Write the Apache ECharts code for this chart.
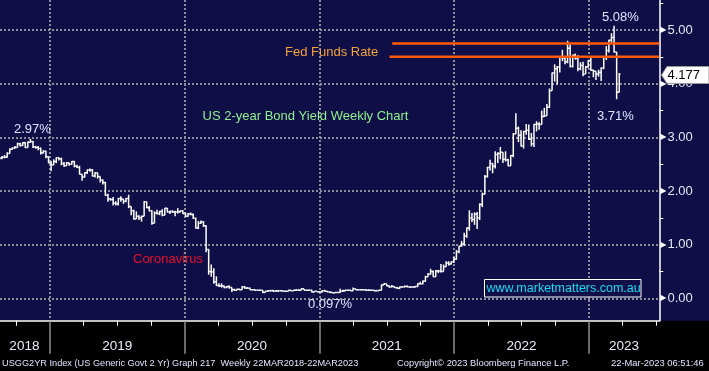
<!DOCTYPE html>
<html><head><meta charset="utf-8">
<script src="https://cdn.jsdelivr.net/npm/echarts@6/dist/echarts.min.js"></script>
<style>html,body{margin:0;padding:0;background:#000;}#c{width:709px;height:371px;}</style>
</head><body><div id="c"></div>
<script>
// ---------- DATA (weekly bars) ----------
const firstWeek = '2018-08-17';   // Friday of the first weekly bar, one bar per week after it
const closes = [
  // 2018
  2.61,2.63,2.63,2.70,2.78,2.80,2.81,2.88,2.85,2.90,2.81,2.91,2.92,2.82,2.81,2.79,2.71,2.74,2.64,2.52,
  // 2019
  2.49,2.55,2.62,2.60,2.51,2.47,2.52,2.50,2.55,2.46,2.44,2.31,2.26,2.34,2.39,2.39,2.28,2.34,2.27,2.20,2.16,1.92,1.85,1.84,1.77,1.76,
  1.86,1.85,1.81,1.86,1.71,1.63,1.48,1.53,1.50,1.53,1.80,1.69,1.63,1.40,1.59,1.58,1.62,1.55,1.68,1.61,1.62,1.61,1.61,1.61,1.63,1.58,
  // 2020
  1.53,1.57,1.56,1.49,1.31,1.40,1.42,1.35,0.91,0.50,0.49,0.31,0.24,0.23,0.23,0.20,0.22,0.20,0.16,0.15,0.17,0.16,0.21,0.19,0.19,0.16,
  0.16,0.15,0.15,0.15,0.11,0.13,0.14,0.14,0.13,0.14,0.14,0.14,0.13,0.13,0.15,0.14,0.15,0.15,0.15,0.18,0.15,0.15,0.15,0.12,0.13,0.12,
  // 2021
  0.12,0.14,0.13,0.12,0.11,0.10,0.11,0.11,0.13,0.14,0.15,0.15,0.14,0.18,0.16,0.16,0.16,0.16,0.15,0.15,0.15,0.14,0.14,0.15,0.25,0.27,
  0.23,0.21,0.22,0.20,0.19,0.21,0.21,0.22,0.21,0.21,0.21,0.22,0.27,0.27,0.32,0.40,0.45,0.50,0.40,0.51,0.51,0.50,0.59,0.66,0.64,0.68,0.73,
  // 2022
  0.87,0.97,1.01,1.16,1.31,1.50,1.47,1.57,1.50,1.75,1.94,2.27,2.44,2.51,2.46,2.68,2.70,2.72,2.59,2.58,2.47,2.66,3.06,3.17,3.04,2.84,
  3.11,3.13,2.97,2.88,3.24,3.25,3.24,3.39,3.40,3.56,3.87,4.20,4.28,4.31,4.50,4.48,4.41,4.66,4.33,4.53,4.47,4.28,4.34,4.18,4.31,4.43,
  // 2023
  4.25,4.23,4.18,4.21,4.29,4.49,4.62,4.81,4.86,4.59,3.84,4.177
];
const highs = [
  2.64,2.65,2.67,2.72,2.79,2.81,2.84,2.90,2.90,2.91,2.91,2.92,2.97,2.93,2.84,2.84,2.81,2.76,2.75,2.65,
  2.56,2.59,2.63,2.63,2.62,2.54,2.54,2.53,2.56,2.56,2.49,2.47,2.31,2.35,2.40,2.42,2.41,2.35,2.34,2.27,2.22,2.17,1.95,1.87,1.89,1.81,
  1.87,1.90,1.85,1.87,1.93,1.69,1.65,1.62,1.55,1.54,1.81,1.79,1.72,1.64,1.62,1.65,1.63,1.66,1.68,1.67,1.63,1.64,1.63,1.68,1.64,1.64,
  1.60,1.59,1.60,1.58,1.50,1.44,1.45,1.44,1.36,0.92,0.63,0.56,0.41,0.28,0.28,0.24,0.23,0.24,0.20,0.18,0.18,0.18,0.23,0.23,0.21,0.20,
  0.17,0.16,0.16,0.16,0.15,0.14,0.15,0.16,0.16,0.15,0.14,0.15,0.14,0.14,0.16,0.15,0.16,0.17,0.17,0.19,0.18,0.16,0.16,0.16,0.13,0.13,
  0.13,0.15,0.16,0.14,0.13,0.12,0.12,0.12,0.18,0.16,0.16,0.16,0.16,0.20,0.18,0.17,0.17,0.17,0.17,0.17,0.16,0.16,0.16,0.16,0.26,0.28,
  0.27,0.24,0.25,0.22,0.21,0.22,0.23,0.24,0.24,0.22,0.22,0.23,0.28,0.31,0.33,0.42,0.47,0.55,0.52,0.53,0.53,0.64,0.63,0.69,0.69,0.69,0.77,
  0.90,0.98,1.07,1.22,1.32,1.64,1.59,1.60,1.61,1.77,1.97,2.30,2.45,2.58,2.52,2.74,2.72,2.82,2.72,2.74,2.60,2.67,3.08,3.45,3.20,3.13,
  3.12,3.25,3.24,3.08,3.25,3.30,3.28,3.50,3.55,3.62,3.91,4.21,4.36,4.33,4.51,4.63,4.51,4.80,4.73,4.54,4.56,4.53,4.40,4.41,4.33,4.44,
  4.48,4.26,4.22,4.26,4.30,4.50,4.70,4.82,4.94,5.08,4.59,4.20
];
const lows = [
  2.58,2.59,2.61,2.62,2.70,2.77,2.79,2.81,2.83,2.84,2.80,2.81,2.90,2.80,2.79,2.76,2.68,2.70,2.61,2.52,
  2.37,2.48,2.52,2.57,2.48,2.45,2.47,2.47,2.49,2.44,2.43,2.31,2.19,2.25,2.32,2.36,2.27,2.25,2.23,2.16,2.12,1.91,1.80,1.82,1.73,1.73,
  1.73,1.80,1.76,1.79,1.68,1.55,1.47,1.50,1.46,1.43,1.55,1.68,1.62,1.37,1.40,1.56,1.55,1.53,1.55,1.60,1.57,1.59,1.53,1.58,1.60,1.57,
  1.52,1.52,1.55,1.48,1.30,1.29,1.39,1.33,0.86,0.44,0.40,0.27,0.23,0.21,0.20,0.19,0.19,0.18,0.12,0.14,0.15,0.15,0.16,0.18,0.18,0.16,
  0.15,0.14,0.15,0.14,0.10,0.11,0.12,0.13,0.13,0.12,0.12,0.13,0.12,0.12,0.13,0.13,0.14,0.14,0.14,0.15,0.15,0.14,0.14,0.11,0.11,0.12,
  0.11,0.11,0.13,0.12,0.11,0.10,0.10,0.10,0.10,0.12,0.13,0.14,0.14,0.14,0.16,0.15,0.15,0.15,0.14,0.14,0.14,0.14,0.14,0.14,0.15,0.25,
  0.23,0.20,0.21,0.19,0.18,0.17,0.21,0.21,0.21,0.20,0.20,0.20,0.21,0.26,0.26,0.31,0.40,0.44,0.40,0.40,0.47,0.48,0.50,0.59,0.61,0.63,0.66,
  0.72,0.84,0.96,0.98,1.13,1.26,1.42,1.37,1.29,1.46,1.70,1.94,2.25,2.38,2.33,2.42,2.52,2.59,2.52,2.55,2.46,2.47,2.63,3.08,2.91,2.83,
  2.79,3.05,2.95,2.83,2.82,3.11,3.14,3.26,3.38,3.42,3.55,3.87,4.04,3.98,4.21,4.42,4.36,4.38,4.30,4.30,4.45,4.23,4.25,4.14,4.19,4.30,
  4.24,4.12,4.07,4.13,4.05,4.27,4.44,4.58,4.77,4.58,3.71,3.84
];
const fedFundsLevels = [4.75, 4.50];          // upper / lower bound lines
const fedFundsFrom = [2021.54, 2021.52];      // decimal year where each line starts
const yLabelValues = [0, 1, 2, 3, 4, 5];
const yTickValues = [0.5, 1.5, 2.5, 3.5, 4.5, 5.5];
const quarterTicks = [2018.75, 2019.25, 2019.5, 2019.75, 2020.25, 2020.5, 2020.75, 2021.25, 2021.5, 2021.75,
                      2022.25, 2022.5, 2022.75, 2023.25, 2023.5];
const yearTicks = [2019, 2020, 2021, 2022, 2023];
const yearLabelAt = [2018.81, 2019.5, 2020.5, 2021.5, 2022.5, 2023.26];
const lastValueText = '4.177';

// ---------- CHART ----------
const FONT = '"Liberation Sans", Arial, sans-serif';
const X_MIN = 2018.629, X_MAX = 2023.522, Y_MIN = -0.417, Y_MAX = 5.559;
const DAY = 86400000;
const startMs = Date.parse(firstWeek + 'T00:00:00Z');
function decYear(ms) {
  const y = new Date(ms).getUTCFullYear();
  const a = Date.UTC(y, 0, 1), b = Date.UTC(y + 1, 0, 1);
  return y + (ms - a) / (b - a);
}
const bars = closes.map((c, i) => [decYear(startMs + i * 7 * DAY), i ? closes[i - 1] : c, highs[i], lows[i], c]);

function renderBar(params, api) {
  const t = api.value(0), o = api.value(1), h = api.value(2), l = api.value(3), c = api.value(4);
  const top = Math.max(h, o, c), bot = Math.min(l, o, c);
  const pT = api.coord([t, top]), pB = api.coord([t, bot]), pO = api.coord([t, o]), pC = api.coord([t, c]);
  const hw = api.size([7 / 365.25, 0])[0] / 2;
  const st = { stroke: '#ffffff', lineWidth: 1.5 };
  return { type: 'group', children: [
    { type: 'line', shape: { x1: pT[0], y1: pT[1], x2: pB[0], y2: pB[1] }, style: st },
    { type: 'line', shape: { x1: pO[0] - hw, y1: pO[1], x2: pO[0], y2: pO[1] }, style: st },
    { type: 'line', shape: { x1: pC[0], y1: pC[1], x2: pC[0] + hw, y2: pC[1] }, style: st }
  ]};
}

const fedSeries = fedFundsLevels.map((lv, i) => ({
  type: 'line', xAxisIndex: 0, yAxisIndex: 0, silent: true, z: 5, symbol: 'none',
  lineStyle: { color: '#ff5a0a', width: 2.5 },
  data: [[fedFundsFrom[i], lv], [X_MAX, lv]]
}));

function txt(x, y, text, fill, size) {
  return { type: 'text', x: x, y: y, silent: true, z: 50,
    style: { text: text, fill: fill, font: size + 'px ' + FONT, verticalAlign: 'middle', align: 'left' } };
}
const LABEL = '#dde6ff';
const GRIDLINE = { color: '#8d8d99', width: 2, type: [2, 2] };

const chart = echarts.init(document.getElementById('c'), null, { renderer: 'canvas' });
chart.setOption({
  animation: false,
  backgroundColor: '#0f0e47',
  grid: [
    { left: 0, right: 49.7, top: 0, height: 320.7, outerBoundsMode: 'none' },
    { left: 0, right: 49.7, top: 319.7, height: 1, outerBoundsMode: 'none' }
  ],
  xAxis: [
    { type: 'value', gridIndex: 0, min: X_MIN, max: X_MAX, minInterval: 1, maxInterval: 1,
      axisLine: { show: false }, axisTick: { show: false }, axisLabel: { show: false },
      splitLine: { show: true, showMinLine: false, showMaxLine: false, lineStyle: GRIDLINE } },
    { type: 'value', gridIndex: 1, position: 'bottom', min: X_MIN, max: X_MAX,
      axisLine: { show: true, lineStyle: { color: '#ffffff', width: 1.5 } },
      axisTick: { show: true, customValues: quarterTicks, length: 5, lineStyle: { color: '#ffffff', width: 1 } },
      axisLabel: { show: true, customValues: yearLabelAt, margin: 19, color: '#e8ecf6',
        fontFamily: FONT, fontSize: 13.5, formatter: v => String(Math.floor(v)) },
      splitLine: { show: false } },
    { type: 'value', gridIndex: 1, position: 'bottom', min: X_MIN, max: X_MAX,
      axisLine: { show: false },
      axisTick: { show: true, customValues: yearTicks, length: 33, lineStyle: { color: '#8e8e8e', width: 1.5 } },
      axisLabel: { show: false }, splitLine: { show: false } }
  ],
  yAxis: [
    { type: 'value', gridIndex: 0, position: 'right', min: Y_MIN, max: Y_MAX, minInterval: 1, maxInterval: 1,
      axisLine: { show: true, lineStyle: { color: '#ffffff', width: 1.5 } },
      axisTick: { show: false },
      axisLabel: { show: true, showMinLabel: false, showMaxLabel: false, margin: 1,
        formatter: v => '{t|\u25B6}{v|' + v.toFixed(2) + '}',
        rich: {
          t: { color: '#ffffff', fontSize: 8, fontFamily: '"DejaVu Sans"' },
          v: { color: '#e2e8f6', fontSize: 13, fontFamily: FONT, padding: [0, 0, 0, 1] }
        } },
      splitLine: { show: true, showMinLine: false, showMaxLine: false, lineStyle: GRIDLINE } },
    { type: 'value', gridIndex: 1, show: false, min: 0, max: 1 },
    { type: 'value', gridIndex: 0, position: 'right', min: Y_MIN, max: Y_MAX,
      axisLine: { show: false },
      axisTick: { show: true, inside: false, customValues: yTickValues, length: 4, lineStyle: { color: '#ffffff', width: 1 } },
      axisLabel: { show: false }, splitLine: { show: false } }
  ],
  series: [
    { type: 'custom', name: 'USGG2YR', xAxisIndex: 0, yAxisIndex: 0, z: 3, silent: true,
      renderItem: renderBar, encode: { x: 0, y: [1, 2, 3, 4] }, data: bars }
  ].concat(fedSeries),
  graphic: { elements: [
    { type: 'rect', z: -10, silent: true, shape: { x: 0, y: 320.7, width: 709, height: 51 }, style: { fill: '#000000' } },
    txt(14, 129.5, '2.97%', LABEL, 13),
    txt(202.5, 116, 'US 2-year Bond Yield Weekly Chart', '#8ef08e', 13),
    txt(285, 52, 'Fed Funds Rate', '#f5a23c', 13),
    txt(602, 17.5, '5.08%', LABEL, 13),
    txt(597, 116.5, '3.71%', LABEL, 13),
    txt(308, 304.7, '0.097%', LABEL, 13),
    txt(133, 259.7, 'Coronavirus', '#e8102a', 13),
    { type: 'rect', z: 50, silent: true, shape: { x: 484.5, y: 279.5, width: 156.5, height: 17.5 },
      style: { fill: '#0f0e47', stroke: '#ffffff', lineWidth: 1 } },
    txt(486.5, 288.5, 'www.marketmatters.com.au', '#14def5', 12.5),
    { type: 'polygon', z: 60, silent: true,
      shape: { points: [[661.5, 75], [667, 66.5], [709, 66.5], [709, 83.5], [667, 83.5]] },
      style: { fill: '#ffffff', stroke: '#9a9a9a', lineWidth: 1 } },
    Object.assign(txt(667.5, 75.5, lastValueText, '#000000', 13), { z: 61 }),
    txt(2, 363.5, 'USGG2YR Index (US Generic Govt 2 Yr) Graph 217  Weekly 22MAR2018-22MAR2023', '#dfe7ff', 9.2),
    txt(397, 363.5, 'Copyright\u00A9 2023 Bloomberg Finance L.P.', '#dfe7ff', 9.4),
    txt(611, 363.5, '22-Mar-2023 06:51:46', '#dfe7ff', 9.4)
  ] }
});
</script>
</body></html>
